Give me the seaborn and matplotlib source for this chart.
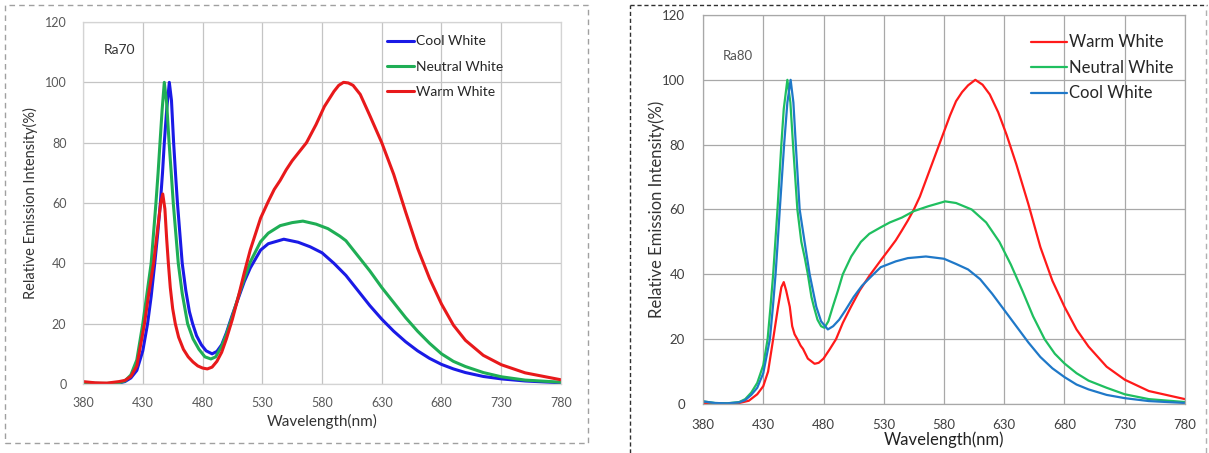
import numpy as np
import pandas as pd
import seaborn as sns
import matplotlib.pyplot as plt
from matplotlib.lines import Line2D
from matplotlib.patches import Rectangle

# ---------------- data ----------------
x_ticks = [380, 430, 480, 530, 580, 630, 680, 730, 780]
y_ticks = [0, 20, 40, 60, 80, 100, 120]

# Ra70 panel
ra70_cool_wl = [380, 390, 400, 410, 415, 420, 425, 430, 434, 437, 440, 442.5, 444.7, 446.5, 448, 450, 452.2, 454,
                455.8, 457.5, 459, 461, 463, 466, 469, 471.7, 475, 479, 483, 488, 492, 496, 500, 505, 510, 515,
                520, 528.6, 535, 548, 560, 570, 580, 590, 600, 610, 620, 630, 640, 650, 660, 670, 680, 690, 700,
                715, 730, 750, 780]
ra70_cool_val = [0.5, 0.2, 0.1, 0.3, 0.8, 2, 4.5, 11, 20, 29, 40, 50, 60, 70, 80, 91, 100, 94,
                 80, 69, 60, 50, 40, 31, 24, 20, 16, 13, 11, 10, 10.8, 13, 17, 23, 28.5, 34,
                 38.5, 44.4, 46.5, 48, 47, 45.5, 43.5, 40, 36, 31, 26, 21.5, 17.5, 14, 11, 8.5, 6.5, 5, 3.8,
                 2.5, 1.7, 1, 0.4]

ra70_neutral_wl = [380, 390, 400, 410, 415, 420, 425, 430, 433.5, 437, 439, 441, 442.8, 444.4, 446.2, 448, 450, 452,
                   453.8, 455.5, 457.6, 459.7, 463, 467.5, 472, 477, 482, 487, 491, 496, 500, 505, 510, 515, 520,
                   528.6, 535, 545, 555, 564, 575, 585, 595, 600, 610, 620, 630, 640, 650, 660, 670, 680, 690, 700,
                   715, 730, 750, 780]
ra70_neutral_val = [0.5, 0.2, 0.2, 0.4, 1, 3, 8, 20, 30, 40, 50, 60, 70, 80, 91, 100, 93, 80,
                    70, 60, 50, 40, 30, 20, 15, 11.5, 9, 8.3, 9, 12.5, 16.5, 22.5, 29, 35, 40.5,
                    47.2, 50, 52.5, 53.5, 54, 53, 51.5, 49, 47.5, 42.5, 37.5, 32, 27, 22, 17.5, 13.5, 10, 7.5, 5.8,
                    3.8, 2.4, 1.3, 0.6]

ra70_warm_wl = [380, 390, 400, 410, 415, 420, 425, 431.4, 435, 439, 442, 445, 446.7, 448.5, 450, 451.4, 453, 455,
                457.2, 460, 464, 468, 472, 476, 480, 484, 488, 492, 496, 500, 505, 510, 515, 520, 528.6, 535, 540,
                545, 550, 555, 560, 567, 575, 582, 590, 594, 598, 602, 606, 612, 620, 630, 640, 650, 660, 670, 680,
                690, 700, 715, 730, 750, 780]
ra70_warm_val = [0.8, 0.4, 0.3, 0.8, 1.2, 2.5, 6, 20, 30, 40, 50, 60, 63, 58, 48, 40, 32, 25,
                 20, 15.5, 11.5, 9, 7.3, 6, 5.3, 5, 5.6, 7.5, 10.5, 15, 21.5, 29, 37, 44.5, 55, 60.5, 64.5,
                 67.5, 71, 74, 76.5, 80, 86, 92, 97, 99, 100, 99.8, 99, 96, 89, 80, 69.5, 57, 45, 35, 26.5,
                 19.5, 14.5, 9.5, 6.4, 3.7, 1.4]

# Ra80 panel
ra80_warm_wl = [380, 390, 400, 410, 418, 425, 430, 434, 438.2, 442.3, 445, 447, 449, 452, 454, 456, 458.3, 461,
                463, 467, 472.6, 476, 480, 485, 490.4, 496, 502.8, 510, 518, 527.5, 535, 540, 545, 550, 555, 560,
                565, 570, 575, 580, 585, 590, 595, 600, 606, 612, 618, 625, 632, 640, 650, 660, 670, 680, 690,
                700, 715, 730, 750, 780]
ra80_warm_val = [0.3, 0.1, 0.1, 0.3, 1, 3, 5.5, 10, 20, 30, 36, 37.6, 35, 30, 24, 21.5, 20, 18,
                 17, 14, 12.4, 12.7, 14, 16.8, 20, 25, 30, 35, 39.5, 44.3, 48, 50.5, 53.5, 56.6, 60, 64,
                 69, 74, 79, 84, 89, 93.4, 96.2, 98.3, 100, 98.5, 95.5, 90, 83, 74, 61.7, 48.4, 38, 30, 23,
                 17.7, 11.5, 7.5, 4, 1.5]

ra80_neutral_wl = [380, 390, 400, 410, 415, 420, 425, 430, 433.6, 436, 438.2, 440, 441.8, 443.4, 445, 447, 450,
                   452.5, 454.7, 456.5, 458.3, 461.6, 464.5, 467, 470, 472, 475, 478, 480.8, 484, 487.7, 492, 496,
                   503, 511, 518, 527.5, 535, 545, 555, 567, 581, 590, 603, 615, 626, 635.5, 645, 654, 663.5, 672,
                   680, 690, 700, 715, 730, 750, 780]
ra80_neutral_val = [0.8, 0.3, 0.2, 0.6, 1.5, 3.5, 6.5, 12, 20, 30, 40, 50, 60, 70, 80, 91, 100,
                    93, 80, 70, 60, 50, 45, 40, 33, 30, 26, 24, 23.5, 25.5, 30, 35, 40,
                    45.5, 50, 52.5, 54.5, 56, 57.5, 59.5, 61, 62.5, 62, 60, 56, 50, 43, 35, 27, 20, 15.5,
                    12.5, 9.5, 7.2, 5, 3, 1.5, 0.6]

ra80_cool_wl = [380, 390, 400, 410, 415, 420, 425, 430, 435.5, 438, 440.2, 442, 443.7, 445.5, 447.3, 450, 452.7,
                455, 457, 458.6, 460.2, 464.3, 468.5, 474, 478, 483.6, 488, 493, 498, 505, 512, 520, 527.5, 540,
                550, 565, 580, 590, 600, 610, 620, 630, 640, 650, 660, 670, 680, 690, 700, 715, 730, 750, 780]
ra80_cool_val = [0.8, 0.3, 0.2, 0.5, 1.2, 2.8, 5, 9.5, 20, 30, 40, 50, 60, 70, 80, 93, 100,
                 93, 80, 70, 60, 50, 40, 30, 25.5, 23, 24, 26, 28.8, 33, 36.5, 39.5, 42.2, 44,
                 45, 45.5, 44.8, 43.2, 41.5, 38.5, 34, 29, 24, 19, 14.5, 11, 8.3, 6, 4.5, 2.8, 1.8, 0.9, 0.3]

panel_names = ["Ra70", "Ra80"]
x_label = "Wavelength(nm)"
y_label = "Relative Emission Intensity(%)"

# ---------------- style ----------------
sns.set_theme(style="white")
plt.rcParams['font.family'] = ['Lato', 'DejaVu Sans']

fig = plt.figure(figsize=(12.09, 4.53), dpi=100)
ax1 = fig.add_axes([0.0687, 0.1523, 0.3953, 0.7991])
ax2 = fig.add_axes([0.5815, 0.1082, 0.3986, 0.8587])


def draw(ax, wl, val, color, lw, label):
    df = pd.DataFrame({"wl": wl, "val": val})
    sns.lineplot(data=df, x="wl", y="val", ax=ax, color=color, lw=lw,
                 label=label, sort=False, estimator=None,
                 solid_joinstyle="round", solid_capstyle="round")


# left panel
draw(ax1, ra70_cool_wl, ra70_cool_val, "#1a1ae6", 2.2, "Cool White")
draw(ax1, ra70_neutral_wl, ra70_neutral_val, "#1fae55", 2.2, "Neutral White")
draw(ax1, ra70_warm_wl, ra70_warm_val, "#e8191b", 2.2, "Warm White")

# right panel
draw(ax2, ra80_warm_wl, ra80_warm_val, "#ff1a1a", 1.6, "Warm White")
draw(ax2, ra80_neutral_wl, ra80_neutral_val, "#1fbf5f", 1.6, "Neutral White")
draw(ax2, ra80_cool_wl, ra80_cool_val, "#1f78c8", 1.6, "Cool White")

for ax, gcol, scol, tcol, tsize in [(ax1, "#c4c4c4", "#d4d4d4", "#595959", 9),
                                    (ax2, "#a8a8a8", "#a8a8a8", "#404040", 9.5)]:
    ax.set_xlim(380, 780)
    ax.set_ylim(0, 120)
    ax.set_xticks(x_ticks)
    ax.set_yticks(y_ticks)
    ax.grid(True, color=gcol, lw=0.9)
    ax.set_axisbelow(True)
    for s in ax.spines.values():
        s.set_color(scol)
        s.set_linewidth(0.9)
    ax.tick_params(length=0, labelsize=tsize, labelcolor=tcol)
    ax.set_facecolor("white")

ax1.tick_params(axis='y', pad=12)
ax1.tick_params(axis='x', pad=9)
ax2.tick_params(axis='y', pad=13)
ax2.tick_params(axis='x', pad=11)

ax1.set_xlabel(x_label, fontsize=11, color="#333333")
ax1.set_ylabel(y_label, fontsize=10.5, color="#333333")
ax1.xaxis.set_label_coords(0.5, -0.083)
ax1.yaxis.set_label_coords(-0.095, 0.5)

ax2.set_xlabel(x_label, fontsize=12, color="#222222")
ax2.set_ylabel(y_label, fontsize=12, color="#333333")
ax2.xaxis.set_label_coords(0.5, -0.071)
ax2.yaxis.set_label_coords(-0.079, 0.5)

ax1.text(0.044, 0.922, panel_names[0], transform=ax1.transAxes, fontsize=10, color="#333333", va="center")
ax2.text(0.041, 0.895, panel_names[1], transform=ax2.transAxes, fontsize=9.5, color="#555555", va="center")

ax1.legend(loc="upper left", bbox_to_anchor=(0.635, 0.963), frameon=False, handlelength=2.0,
           handletextpad=0.15, labelspacing=0.95, fontsize=10, borderaxespad=0, borderpad=0)
ax2.legend(loc="upper left", bbox_to_anchor=(0.68, 0.95), frameon=False, handlelength=2.2,
           handletextpad=0.1, labelspacing=0.57, fontsize=12, borderaxespad=0, borderpad=0)

# dashed panel borders
fig.patches.append(Rectangle((5 / 1209, 1 - 443 / 453), 583 / 1209, 438 / 453, transform=fig.transFigure,
                             fill=False, ls=(0, (4, 3)), lw=1, ec="#a0a0a0"))
fig.lines.append(Line2D([630 / 1209, 630 / 1209], [0, 1 - 5 / 453], transform=fig.transFigure,
                        ls=(0, (3, 2)), lw=1, color="#303030"))
fig.lines.append(Line2D([630 / 1209, 1207 / 1209], [1 - 5 / 453, 1 - 5 / 453], transform=fig.transFigure,
                        ls=(0, (3, 2)), lw=1, color="#303030"))
fig.lines.append(Line2D([1206 / 1209, 1206 / 1209], [0, 1 - 5 / 453], transform=fig.transFigure,
                        ls=(0, (4, 3)), lw=1, color="#b0b0b0"))

fig.savefig("out.png", dpi=100)
